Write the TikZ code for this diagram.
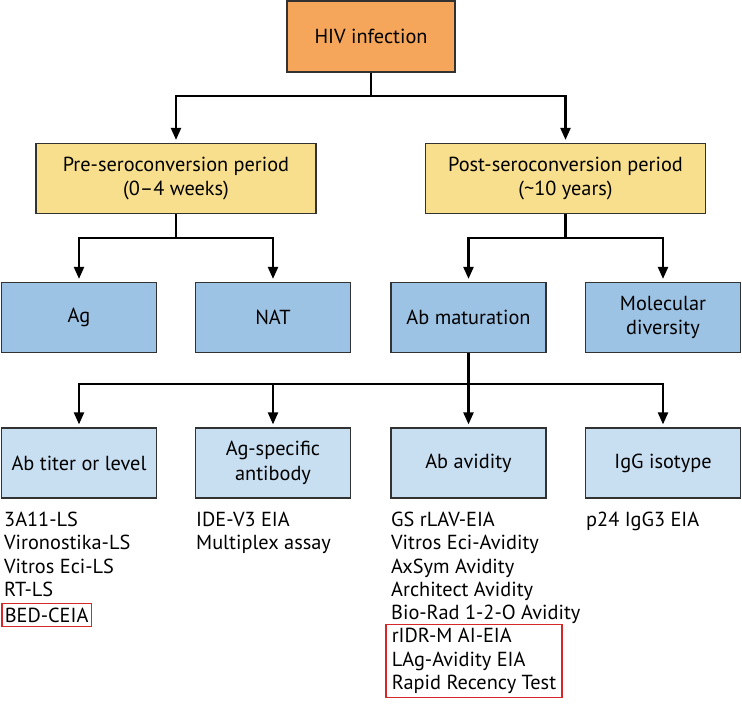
\documentclass[tikz,border=0pt]{standalone}
\usepackage{fontspec}
\setmainfont{PT Sans}
\usetikzlibrary{arrows.meta,positioning}

\definecolor{hivorange}{RGB}{245,166,90}
\definecolor{periodyellow}{RGB}{248,223,142}
\definecolor{groupblue}{RGB}{157,195,228}
\definecolor{testblue}{RGB}{200,222,241}
\definecolor{boxline}{RGB}{50,50,50}
\definecolor{markred}{RGB}{214,40,40}

\begin{document}
\begin{tikzpicture}[x=1bp,y=-1bp,
  font=\fontsize{20.4}{23.4}\selectfont,
  box/.style={draw=boxline,line width=1.2bp,align=center,inner sep=0pt,minimum height=70bp,
    font=\fontsize{20.4}{25}\selectfont},
  period/.style={box,fill=periodyellow,minimum width=280bp},
  group/.style={box,fill=groupblue,minimum width=155bp},
  marker/.style={box,fill=testblue,minimum width=155bp},
  assays/.style={align=left,inner sep=0pt,anchor=north west},
  hilite/.style={draw=markred,line width=1.5bp,align=left,inner ysep=4bp,inner xsep=3bp,anchor=west},
  link/.style={line width=2.2bp},
  arr/.style={link,-{Triangle[length=12bp,width=10bp]},shorten >=3bp}]
\useasboundingbox (0,0) rectangle (742,706);
\node[box,fill=hivorange,minimum width=168bp,minimum height=71bp](hiv) at (371,36.5) {HIV infection};
\node[period](pre) at (176,178.5) {Pre-seroconversion period\\(0--4 weeks)};
\node[period](post) at (565.5,178.5) {Post-seroconversion period\\(\textasciitilde10 years)};
\node[group](ag) at (79,317.5) {Ag};
\node[group](nat) at (273,317.5) {NAT};
\node[group](abm) at (468.5,317.5) {Ab maturation};
\node[group](mol) at (663,317.5) {Molecular\\diversity};
\node[marker](titer) at (79,463) {Ab titer or level};
\node[marker](agspec) at (273,463) {Ag-specific\\antibody};
\node[marker](avid) at (468.5,463) {Ab avidity};
\node[marker](igg) at (663,463) {IgG isotype};
% assays under each marker
\node[assays](titerlist) at (4,512) {3A11-LS\\Vironostika-LS\\Vitros Eci-LS\\RT-LS};
\node[hilite](bed) at (1,615) {BED-CEIA};
\node[assays](agspeclist) at (196,512) {IDE-V3 EIA\\Multiplex assay};
\node[assays](avidlist) at (391,512) {GS rLAV-EIA\\Vitros Eci-Avidity\\AxSym Avidity\\Architect Avidity\\Bio-Rad 1-2-O Avidity};
\node[hilite,inner xsep=6bp](recent) at (385,661) {rIDR-M AI-EIA\\LAg-Avidity EIA\\Rapid Recency Test};
\node[assays](igglist) at (586,512) {p24 IgG3 EIA};
% connectors
\coordinate(bus1) at (371,96);
\coordinate(bus2) at (176,238);
\coordinate(bus3) at (565.5,238);
\coordinate(bus4) at (468.5,384);
\draw[link] (hiv.south) -- (bus1);
\draw[arr] (bus1) -| (pre.north);
\draw[arr] (bus1) -| (post.north);
\draw[link] (pre.south) -- (bus2);
\draw[arr] (bus2) -| (ag.north);
\draw[arr] (bus2) -| (nat.north);
\draw[link] (post.south) -- (bus3);
\draw[arr] (bus3) -| (abm.north);
\draw[arr] (bus3) -| (mol.north);
\draw[link] (abm.south) -- (bus4);
\draw[arr] (bus4) -| (titer.north);
\draw[arr] (bus4) -| (agspec.north);
\draw[arr] (bus4) -- (avid.north);
\draw[arr] (bus4) -| (igg.north);
\end{tikzpicture}
\end{document}
